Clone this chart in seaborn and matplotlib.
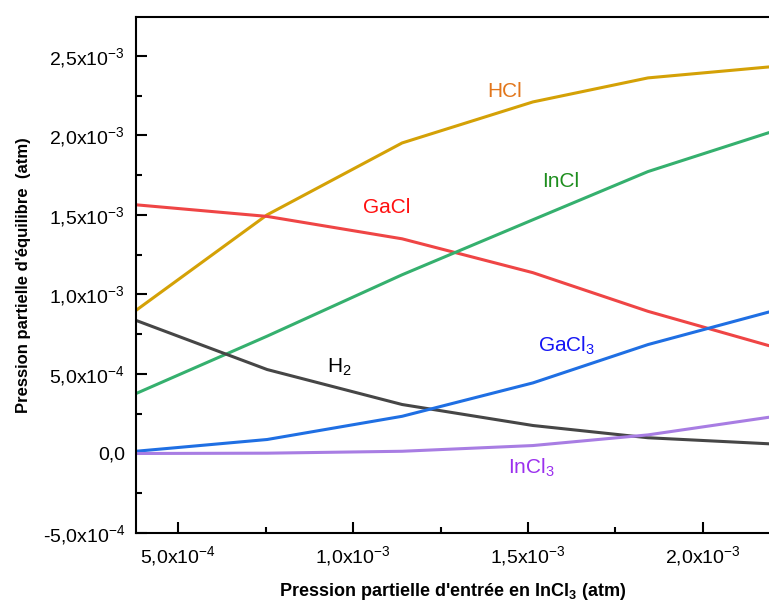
import numpy as np
import pandas as pd
import matplotlib
matplotlib.use('Agg')
import matplotlib.pyplot as plt
import seaborn as sns
from matplotlib.ticker import MultipleLocator

# ──────────────────────────────────────────────
# DONNÉES
# ──────────────────────────────────────────────

p_incl3_in = [3.79e-4, 7.54e-4, 1.14e-3, 1.514e-3, 1.843e-3, 2.189e-3]

hcl   = [0.900e-3, 1.501e-3, 1.953e-3, 2.211e-3, 2.362e-3, 2.431e-3]
gacl  = [1.564e-3, 1.491e-3, 1.350e-3, 1.137e-3, 0.894e-3, 0.678e-3]
incl  = [0.377e-3, 0.738e-3, 1.124e-3, 1.470e-3, 1.773e-3, 2.018e-3]
h2    = [0.837e-3, 0.528e-3, 0.308e-3, 0.176e-3, 0.099e-3, 0.061e-3]
gacl3 = [0.014e-3, 0.088e-3, 0.234e-3, 0.444e-3, 0.685e-3, 0.890e-3]
incl3 = [0.000e-3, 0.002e-3, 0.014e-3, 0.050e-3, 0.117e-3, 0.228e-3]

species = ["HCl", "GaCl", "InCl", "H2", "GaCl3", "InCl3"]

x_ticks = [5e-4, 1e-3, 1.5e-3, 2e-3]
x_tick_labels = ["5,0x10$^{\\mathregular{-4}}$", "1,0x10$^{\\mathregular{-3}}$",
                 "1,5x10$^{\\mathregular{-3}}$", "2,0x10$^{\\mathregular{-3}}$"]
y_ticks = [-5e-4, 0.0, 5e-4, 1e-3, 1.5e-3, 2e-3, 2.5e-3]
y_tick_labels = ["-5,0x10$^{\\mathregular{-4}}$", "0,0", "5,0x10$^{\\mathregular{-4}}$",
                 "1,0x10$^{\\mathregular{-3}}$", "1,5x10$^{\\mathregular{-3}}$",
                 "2,0x10$^{\\mathregular{-3}}$", "2,5x10$^{\\mathregular{-3}}$"]

line_colors = {
    "HCl":   "#D4A106",
    "GaCl":  "#EF4545",
    "InCl":  "#35B06E",
    "H2":    "#464646",
    "GaCl3": "#1F6FE3",
    "InCl3": "#A87DE3",
}

# étiquettes : (texte, x, y, couleur)
labels = [
    ("HCl",                         1.434e-3, 2.276e-3, "#E2761B"),
    ("GaCl",                        1.097e-3, 1.545e-3, "#FF1010"),
    ("InCl",                        1.594e-3, 1.709e-3, "#1E8E1E"),
    ("H$_\\mathregular{2}$",        0.960e-3, 0.540e-3, "#000000"),
    ("GaCl$_\\mathregular{3}$",     1.610e-3, 0.680e-3, "#1515F5"),
    ("InCl$_\\mathregular{3}$",     1.510e-3, -0.090e-3, "#9B30EE"),
]

# ──────────────────────────────────────────────
# TABLEAU LONG POUR SEABORN
# ──────────────────────────────────────────────

series = {"HCl": hcl, "GaCl": gacl, "InCl": incl,
          "H2": h2, "GaCl3": gacl3, "InCl3": incl3}
df = pd.concat(
    [pd.DataFrame({"x": p_incl3_in, "p": vals, "espece": name})
     for name, vals in series.items()],
    ignore_index=True,
)

# ──────────────────────────────────────────────
# FIGURE
# ──────────────────────────────────────────────

sns.set_style("ticks")
plt.rcParams['font.family'] = ['Liberation Sans', 'DejaVu Sans']
plt.rcParams['mathtext.fontset'] = 'custom'
plt.rcParams['mathtext.rm'] = 'Liberation Sans'
plt.rcParams['text.color'] = 'black'
plt.rcParams['axes.labelcolor'] = 'black'

fig = plt.figure(figsize=(7.69, 6.05), dpi=100)
ax = fig.add_axes([136 / 769, 72 / 605, 633 / 769, 516 / 605])

sns.lineplot(data=df, x="x", y="p", hue="espece", hue_order=species,
             palette=line_colors, linewidth=2.2, legend=False, ax=ax,
             sort=False, estimator=None)

ax.set_xlim(3.79e-4, 2.189e-3)
ax.set_ylim(-5e-4, 2.745e-3)

ax.set_xticks(x_ticks)
ax.set_xticklabels(x_tick_labels)
ax.set_yticks(y_ticks)
ax.set_yticklabels(y_tick_labels)
ax.xaxis.set_minor_locator(MultipleLocator(2.5e-4))
ax.yaxis.set_minor_locator(MultipleLocator(2.5e-4))

ax.tick_params(which="major", direction="in", length=8, width=1.5,
               labelsize=14, pad=8, colors="black")
ax.tick_params(which="minor", direction="in", length=4, width=1.5,
               colors="black")

for side in ["left", "bottom", "top"]:
    ax.spines[side].set_linewidth(1.5)
    ax.spines[side].set_color("black")
ax.spines["right"].set_visible(False)

ax.set_xlabel("Pression partielle d'entrée en InCl$_\\mathregular{3}$ (atm)",
              fontsize=13, fontweight="bold", labelpad=9)
ax.set_ylabel("Pression partielle d'équilibre  (atm)",
              fontsize=12, fontweight="bold", labelpad=8)

for text, tx, ty, col in labels:
    ax.text(tx, ty, text, color=col, fontsize=15, ha="center", va="center")

fig.savefig("out.png", dpi=100)
